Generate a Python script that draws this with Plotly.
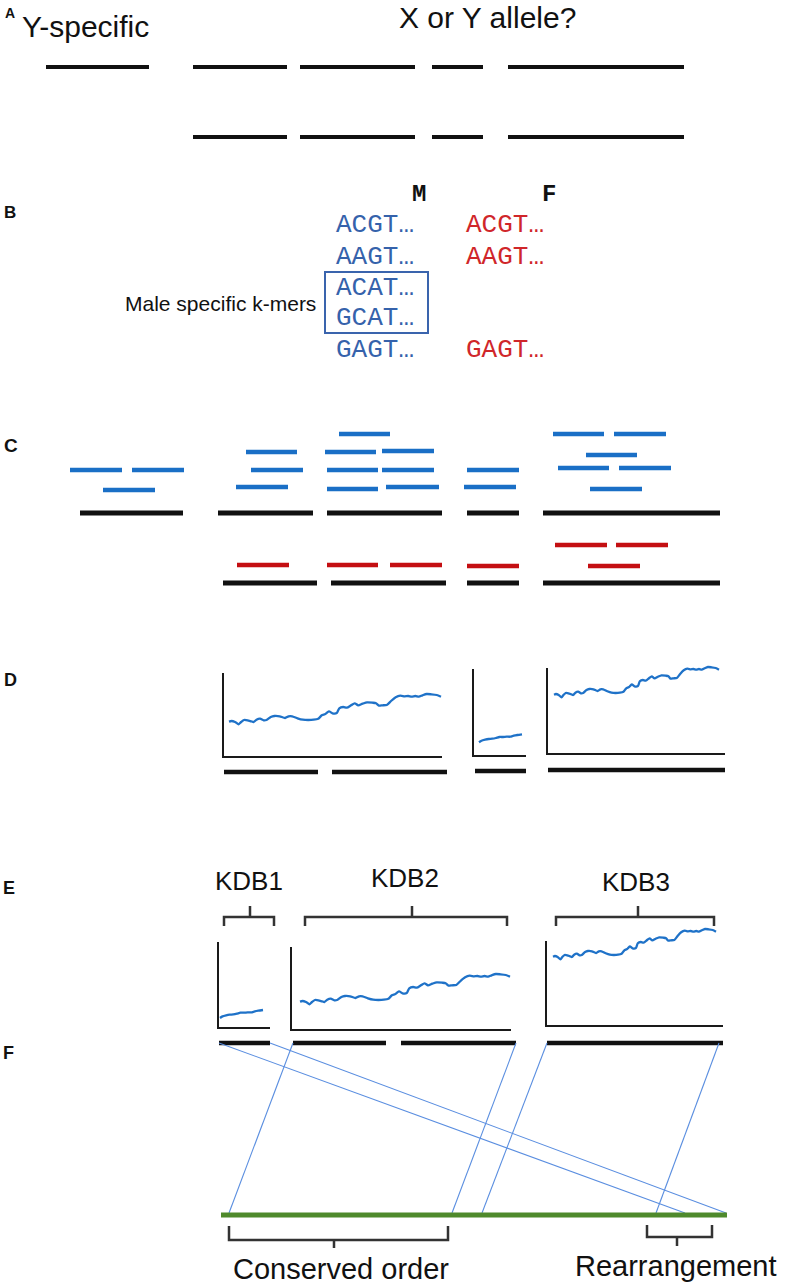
import plotly.graph_objects as go

W, H = 787, 1287

# ------------------------------------------------------------------ data
panel_labels = ["A", "B", "C", "D", "E", "F"]
region_titles = ["Y-specific", "X or Y allele?"]

# Panel A: scaffold pieces (start, end) on the two rows
a_row1_segments = [(46, 149), (193, 287), (300, 415), (432, 483), (508, 684)]
a_row2_segments = [(193, 287), (300, 415), (432, 483), (508, 684)]

# Panel B: k-mer table
kmer_headers = ["M", "F"]
kmers_male = ["ACGT…", "AAGT…", "ACAT…", "GCAT…", "GAGT…"]
kmers_female = ["ACGT…", "AAGT…", "", "", "GAGT…"]
male_specific_label = "Male specific k-mers"

# Panel C: mapped reads (start, end, row) and scaffolds
c_male_reads = [(70, 122, 470), (132, 184, 470), (103, 155, 490),
                (246, 297, 452), (251, 303, 470), (236, 288, 487),
                (339, 390, 434), (325, 376, 452), (382, 434, 451),
                (327, 378, 470), (382, 434, 470), (327, 378, 489), (386, 439, 487),
                (467, 519, 470), (464, 516, 487),
                (553, 604, 434), (614, 666, 434), (586, 637, 455),
                (558, 609, 468), (619, 671, 468), (590, 642, 489)]
c_male_scaffolds = [(80, 183), (218, 313), (327, 442), (467, 519), (543, 720)]
c_female_reads = [(555, 607, 545), (616, 668, 545), (237, 289, 565),
                  (327, 378, 565), (390, 442, 565), (467, 519, 566), (588, 640, 566)]
c_female_scaffolds = [(223, 317), (331, 446), (467, 519), (543, 720)]

# Panel D/E: k-mer coverage profiles (position %, coverage)
coverage_pos = [0, 1.18, 2.86, 4.55, 5.72, 7.07, 8.75, 10.44, 11.62, 12.96,
                14.65, 16.33, 17.68, 19.70, 21.38, 23.91, 26.43, 28.11, 29.80, 32.32,
                34.85, 37.37, 39.90, 42.09, 43.77, 45.45, 47.14, 48.82, 50.84, 52.02,
                53.87, 55.56, 57.58, 59.26, 60.94, 62.96, 65.15, 67.68, 69.36, 70.71,
                72.39, 74.41, 76.43, 78.62, 80.81, 82.83, 84.51, 86.20, 87.88, 89.56,
                91.25, 93.27, 95.45, 97.98, 100]
coverage_long = [34.3, 35, 34, 31.7, 34, 36, 35.7, 34.7, 34, 36.3,
                 37.3, 35.7, 36, 39, 40, 39.7, 38, 39.7, 39.7, 37.7,
                 36.3, 36, 36.3, 37.3, 40.7, 42, 44.7, 42.7, 43, 47.7,
                 49, 48.3, 50.7, 52.7, 50.7, 52.3, 53.7, 53.3, 52.7, 50.3,
                 50.7, 51, 55, 58.7, 60.3, 59.7, 60, 59.3, 60, 59.3,
                 60.7, 62, 61.7, 61, 59.3]
coverage_short_pos = [0, 5.8, 14.2, 22.5, 30.8, 39.2, 47.5, 55.8, 64.2, 72.5, 80.8, 89.2, 100]
coverage_short = [12.7, 14.3, 15.3, 16, 16.3, 17, 18, 18, 18.3, 18.3, 19.3, 20, 20.7]

d_scaffolds = [(224, 318, 772), (332, 447, 772), (475, 526, 771), (548, 725, 770)]

kdb_labels = ["KDB1", "KDB2", "KDB3"]
e_scaffolds = [(219, 270), (293, 386), (401, 516), (547, 723)]

# Panel F: reference chromosome and synteny links (scaffold end -> reference pos)
f_reference = (221, 727)
f_links = [(219, 685), (270, 726), (293, 229), (516, 452), (547, 482), (719, 656)]
f_labels = ["Conserved order", "Rearrangement"]

# ------------------------------------------------------------------ style / layout
SANS = "Liberation Sans, Arial, sans-serif"
MONO = "Liberation Mono, Courier New, monospace"
BLACK = "#111111"
BLUE_READ = "#1a6fc6"
RED_READ = "#c40f12"
BLUE_TXT = "#3562ab"
RED_TXT = "#d0262a"


def dom_x(px):
    return px / W


def dom_y(py):
    return 1 - py / H


fig = go.Figure()
ann = []
shapes = []


def seg_trace(segs, y, color, width):
    xs, ys = [], []
    for s in segs:
        x0, x1 = s[0], s[1]
        yy = s[2] if len(s) > 2 else y
        xs += [x0, x1, None]
        ys += [yy, yy, None]
    fig.add_trace(go.Scatter(x=xs, y=ys, mode="lines", line=dict(color=color, width=width),
                             hoverinfo="skip", showlegend=False))


def text(x, y, s, size, color="#111", family=SANS, xanchor="center", bold=False):
    if bold:
        s = "<b>" + s + "</b>"
    ann.append(dict(x=x, y=y, xref="x", yref="y", text=s, showarrow=False,
                    xanchor=xanchor, yanchor="middle",
                    font=dict(size=size, color=color, family=family)))


def bracket(x1, x2, xc, y_end, y_h, y_tip):
    fig.add_trace(go.Scatter(x=[x1, x1, xc, xc, xc, x2, x2],
                             y=[y_end, y_h, y_h, y_tip, y_h, y_h, y_end],
                             mode="lines", line=dict(color="#333333", width=2.5),
                             hoverinfo="skip", showlegend=False))


# panel letters
label_pos = [(10, 13, 14), (10, 212, 17), (11, 445, 19), (10, 680, 18), (9, 888, 18), (8, 1053, 18)]
for lab, (lx, ly, ls) in zip(panel_labels, label_pos):
    text(lx, ly, lab, ls, bold=True)

# ---- A
text(20, 26, region_titles[0], 30, xanchor="left")
text(397, 17, region_titles[1], 30, xanchor="left")
seg_trace(a_row1_segments, 67, BLACK, 4)
seg_trace(a_row2_segments, 137, BLACK, 4)

# ---- B
text(419, 194, kmer_headers[0], 24, family=MONO, bold=True)
text(549, 194, kmer_headers[1], 24, family=MONO, bold=True)
row_y = [225, 257, 288, 318, 350]
for ky, km, kf in zip(row_y, kmers_male, kmers_female):
    text(334, ky, km, 26, color=BLUE_TXT, family=MONO, xanchor="left")
    if kf:
        text(464, ky, kf, 26, color=RED_TXT, family=MONO, xanchor="left")
shapes.append(dict(type="rect", xref="x", yref="y", x0=325, x1=428, y0=272, y1=333,
                   line=dict(color="#3a64ad", width=2)))
text(318, 303, male_specific_label, 21, xanchor="right")

# ---- C
seg_trace(c_male_reads, None, BLUE_READ, 4.5)
seg_trace(c_male_scaffolds, 513, BLACK, 5)
seg_trace(c_female_reads, None, RED_READ, 4.5)
seg_trace(c_female_scaffolds, 583, BLACK, 5)

# ---- D & E coverage plots
charts = [
    # frame (x0, x1, ytop, ybot), curve (cx0, cx1, baseline_px), profile
    ((224, 442, 673, 756), (229, 441, 756), "long"),
    ((474, 526, 669, 755), (479, 522, 755), "short"),
    ((548, 725, 668, 753), (554, 719, 729), "long"),
    ((219, 270, 942, 1027), (220, 263, 1030.7), "short"),
    ((292, 511, 947, 1029), (300, 510, 1036), "long"),
    ((547, 723, 941, 1025), (553, 716, 991), "long"),
]
layout_axes = {}
n = 2
for (fx0, fx1, fyt, fyb), (cx0, cx1, base), kind in charts:
    # frame axes (visible L-shaped axis lines)
    xa, ya = f"x{n}", f"y{n}"
    layout_axes[f"xaxis{n}"] = dict(domain=[dom_x(fx0), dom_x(fx1)], range=[0, 1], anchor=ya,
                                    showline=True, linecolor="#1a1a1a", linewidth=2,
                                    showticklabels=False, ticks="", showgrid=False,
                                    zeroline=False, fixedrange=True)
    layout_axes[f"yaxis{n}"] = dict(domain=[dom_y(fyb), dom_y(fyt)], range=[0, 1], anchor=xa,
                                    showline=True, linecolor="#1a1a1a", linewidth=2,
                                    showticklabels=False, ticks="", showgrid=False,
                                    zeroline=False, fixedrange=True)
    fig.add_trace(go.Scatter(x=[None], y=[None], xaxis=xa, yaxis=ya, mode="lines",
                             showlegend=False, hoverinfo="skip"))
    n += 1
    # curve axes (invisible, carry the coverage profile)
    xa, ya = f"x{n}", f"y{n}"
    pad = 3
    span = (cx1 - cx0) / 100.0
    layout_axes[f"xaxis{n}"] = dict(domain=[dom_x(cx0 - pad * span), dom_x(cx1 + pad * span)],
                                    range=[-pad, 100 + pad], anchor=ya, visible=False,
                                    fixedrange=True)
    layout_axes[f"yaxis{n}"] = dict(domain=[dom_y(base + 5), dom_y(base - 105)],
                                    range=[-5, 105], anchor=xa, visible=False, fixedrange=True)
    px_, py_ = (coverage_pos, coverage_long) if kind == "long" else (coverage_short_pos, coverage_short)
    fig.add_trace(go.Scatter(x=px_, y=py_, xaxis=xa, yaxis=ya, mode="lines",
                             line=dict(color="#1f72c8", width=2.3, shape="spline", smoothing=0.6),
                             showlegend=False, hoverinfo="skip"))
    n += 1

seg_trace(d_scaffolds, None, BLACK, 4.5)

# ---- E
text(249, 881, kdb_labels[0], 26)
text(405, 878, kdb_labels[1], 26)
text(636, 882, kdb_labels[2], 26)
bracket(224, 274, 250, 926, 917, 906)
bracket(305, 507, 412, 926, 917, 906)
bracket(556, 714, 638, 926, 917, 906)
seg_trace(e_scaffolds, 1043, BLACK, 4.5)

# ---- F
lx, ly = [], []
for sx, rx in f_links:
    lx += [sx, rx, None]
    ly += [1043, 1213, None]
fig.add_trace(go.Scatter(x=lx, y=ly, mode="lines", line=dict(color="#5a8ee0", width=1.1),
                         hoverinfo="skip", showlegend=False))
seg_trace([f_reference], 1215, "#4f8a2c", 5)
bracket(229, 448, 334, 1226, 1240, 1248)
bracket(647, 712, 677, 1225, 1237, 1246)
text(341, 1269, f_labels[0], 29)
text(573, 1266, f_labels[1], 29, xanchor="left")

fig.update_layout(
    width=W, height=H, margin=dict(l=0, r=0, t=0, b=0),
    paper_bgcolor="white", plot_bgcolor="rgba(0,0,0,0)",
    xaxis=dict(domain=[0, 1], range=[0, W], visible=False, fixedrange=True),
    yaxis=dict(domain=[0, 1], range=[H, 0], visible=False, fixedrange=True),
    annotations=ann, shapes=shapes, showlegend=False,
    **layout_axes,
)
fig.write_html("out.html", config={"displayModeBar": False},
               post_script="document.body.style.margin='0';document.body.style.overflow='hidden';")
